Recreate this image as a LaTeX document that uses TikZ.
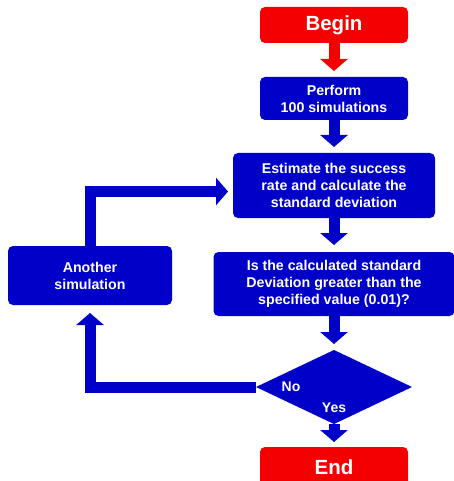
\documentclass[tikz,border=0pt]{standalone}
\usepackage{fontspec}
\setmainfont{Liberation Sans}
\usepackage{tikz}
\usetikzlibrary{arrows.meta, shapes.geometric}
\definecolor{flowblue}{RGB}{0, 0, 200}
\definecolor{flowred}{RGB}{245, 0, 0}

\begin{document}
\begin{tikzpicture}[
    x=1pt, y=-1pt,
    box/.style={rectangle, rounded corners=5pt, inner sep=0pt, outer sep=0pt,
                align=center, text=white,
                font=\bfseries\fontsize{14.2}{16.9}\selectfont},
    term/.style={box, fill=flowred, minimum width=148pt,
                 font=\bfseries\fontsize{20.5}{24}\selectfont},
    proc/.style={box, fill=flowblue},
    decision/.style={diamond, fill=flowblue, inner sep=0pt, outer sep=0pt,
                     minimum width=156pt, minimum height=74pt},
    lbl/.style={text=white, font=\bfseries\fontsize{14}{16}\selectfont},
    arr/.style={-{Triangle[width=27pt,length=12pt]}, line width=11pt},
  ]
  \useasboundingbox (0,0) rectangle (454,481);

  % ── Main column ──────────────────────────────────
  \node[term, minimum height=36pt] (begin) at (334, 25) {Begin};
  \node[proc, minimum width=148pt, minimum height=43pt] (perf) at (334, 98.5)
        {Perform\\100 simulations};
  \node[proc, minimum width=202pt, minimum height=65pt] (est)  at (334, 185.5)
        {Estimate the success\\rate and calculate the\\standard deviation};
  \node[proc, minimum width=241pt, minimum height=64pt] (test) at (334, 284)
        {Is the calculated standard\\Deviation greater than the\\specified value (0.01)?};
  \node[decision] (dec) at (334, 387) {};
  \node[term, minimum height=40pt] (end) at (334, 467) {End};

  \draw[arr, color=flowred,  shorten >=6pt] (begin.south) -- (perf.north);
  \draw[arr, color=flowblue, shorten >=6pt] (perf.south) -- (est.north);
  \draw[arr, color=flowblue, shorten >=7pt] (est.south)  -- (test.north);
  \draw[arr, color=flowblue, shorten >=6pt] (test.south) -- (dec.north);
  \draw[arr, color=flowblue, shorten >=5pt] (dec.south)  -- (end.north);

  % ── Loop ─────────────────────────────────────────
  \node[proc, minimum width=164pt, minimum height=59pt] (again) at (90, 275.5)
        {Another\\simulation};

  \draw[arr, color=flowblue, shorten >=8pt] (dec.west) -| (again.south);
  \draw[arr, color=flowblue, shorten >=5pt]
        (again.north) |- ([yshift=-6pt]est.west);

  \node[lbl] (nolbl)  at (291, 387) {No};
  \node[lbl] (yeslbl) at (334, 408) {Yes};

\end{tikzpicture}
\end{document}
